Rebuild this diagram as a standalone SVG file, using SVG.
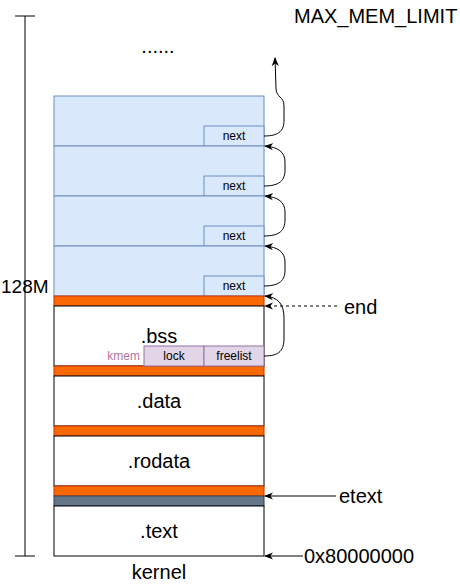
<svg xmlns="http://www.w3.org/2000/svg" width="460" height="586" viewBox="0 0 460 586">
<defs>
<style>
text{font-family:"Liberation Sans",Arial,sans-serif;fill:#000}
.big{font-size:20px}
.sm{font-size:12px}
.c{text-anchor:middle}
.blue{fill:#dae8fc;stroke:#6c8ebf;stroke-width:1}
.org{fill:#fa6800;stroke:#c73500;stroke-width:1}
.gray{fill:#647687;stroke:#314354;stroke-width:1}
.pur{fill:#e1d5e7;stroke:#9673a6;stroke-width:1}
.wb{fill:#fff;stroke:#000;stroke-width:1}
.ln{fill:none;stroke:#000;stroke-width:1}
</style>
<marker id="ah" viewBox="0 0 10 10" refX="9" refY="5" markerWidth="9" markerHeight="9" orient="auto" markerUnits="userSpaceOnUse">
<path d="M0,1 L10,5 L0,9 L3,5 z" fill="#000"/>
</marker>
</defs>
<rect width="460" height="586" fill="#fff"/>

<g id="scale">
<line class="ln" x1="25" y1="16" x2="25" y2="556"/>
<line class="ln" x1="15" y1="16" x2="35" y2="16"/>
<line class="ln" x1="15" y1="556" x2="35" y2="556"/>
<text x="1" y="292.5" style="font-size:19px">128M</text>
</g>

<g id="top-labels">
<text class="big" x="294" y="23">MAX_MEM_LIMIT</text>
<text class="big c" x="158" y="53">......</text>
</g>

<g id="page1"><rect class="blue" x="54" y="96" width="210" height="50"/><rect class="blue" x="204" y="126" width="60" height="20"/><text class="sm c" x="234" y="140">next</text></g>
<g id="page2"><rect class="blue" x="54" y="146" width="210" height="50"/><rect class="blue" x="204" y="176" width="60" height="20"/><text class="sm c" x="234" y="190">next</text></g>
<g id="page3"><rect class="blue" x="54" y="196" width="210" height="50"/><rect class="blue" x="204" y="226" width="60" height="20"/><text class="sm c" x="234" y="240">next</text></g>
<g id="page4"><rect class="blue" x="54" y="246" width="210" height="50"/><rect class="blue" x="204" y="276" width="60" height="20"/><text class="sm c" x="234" y="290">next</text></g>

<g id="kernel">
<rect class="org" x="54" y="296" width="210" height="10"/>
<rect class="wb" x="54" y="306" width="210" height="60"/>
<text class="big c" x="159" y="343">.bss</text>
<rect class="org" x="54" y="366" width="210" height="10"/>
<rect class="wb" x="54" y="376" width="210" height="50"/>
<text class="big c" x="159" y="408">.data</text>
<rect class="org" x="54" y="426" width="210" height="10"/>
<rect class="wb" x="54" y="436" width="210" height="50"/>
<text class="big c" x="159" y="468">.rodata</text>
<rect class="org" x="54" y="486" width="210" height="10"/>
<rect class="gray" x="54" y="496" width="210" height="10"/>
<rect class="wb" x="54" y="506" width="210" height="50"/>
<text class="big c" x="159" y="538">.text</text>
<text class="big c" x="159" y="579">kernel</text>
</g>

<g id="kmem">
<text class="sm" x="140" y="360" style="text-anchor:end;fill:#b5739d">kmem</text>
<rect class="pur" x="144" y="346" width="60" height="20"/>
<text class="sm c" x="174" y="360">lock</text>
<rect class="pur" x="204" y="346" width="60" height="20"/>
<text class="sm c" x="234" y="360">freelist</text>
</g>

<g id="labels">
<text class="big" x="344" y="314">end</text>
<text class="big" x="339" y="503">etext</text>
<text class="big" x="304" y="563">0x80000000</text>
</g>

<g id="connectors">
<path class="ln" marker-end="url(#ah)" d="M264,136 C280,136 284,130 284,120 L284,106 C284,96 276,98 276,88 L275,58"/>
<path class="ln" marker-end="url(#ah)" d="M264,186 C280,186 285,180 285,170 L285,162 C285,152 278,147 265,146"/>
<path class="ln" marker-end="url(#ah)" d="M264,236 C280,236 285,230 285,220 L285,212 C285,202 278,197 265,196"/>
<path class="ln" marker-end="url(#ah)" d="M264,286 C280,286 285,280 285,270 L285,262 C285,252 278,247 265,246"/>
<path class="ln" marker-end="url(#ah)" d="M264,356 C280,356 284,350 284,338 L284,318 C284,304 278,297 265,296"/>
<line class="ln" stroke-dasharray="3,3" marker-end="url(#ah)" x1="337" y1="306" x2="265" y2="306"/>
<line class="ln" marker-end="url(#ah)" x1="336" y1="496" x2="265" y2="496"/>
<line class="ln" marker-end="url(#ah)" x1="303" y1="556" x2="265" y2="556"/>
</g>
</svg>
